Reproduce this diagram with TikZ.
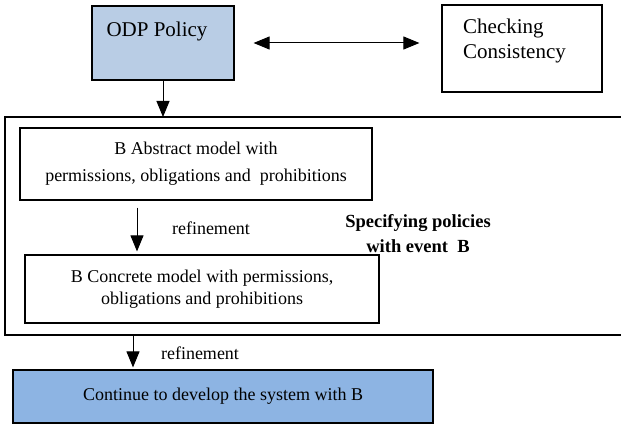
\documentclass[tikz,border=0pt]{standalone}
\usepackage{fontspec}
\setmainfont{Liberation Serif}
\usetikzlibrary{arrows.meta}
\definecolor{odpblue}{RGB}{185,205,229}
\definecolor{devblue}{RGB}{141,180,227}

\begin{document}
\begin{tikzpicture}[x=1pt,y=-1pt,
        box/.style={draw,line width=1.2pt,inner sep=0pt,align=center},
        arr/.style={line width=1pt,-{Triangle[length=16pt,width=13pt]}},
        dblarr/.style={line width=1pt,{Triangle[length=16pt,width=13pt]}-{Triangle[length=16pt,width=13pt]}},
        txt/.style={inner sep=0pt,align=center,font=\fontsize{18}{27}\selectfont}]
        \useasboundingbox (0,0) rectangle (621,425);
        % top line
        \node[box,fill=odpblue,minimum width=142pt,minimum height=74pt] (odp) at (163,43) {};
        \node[inner sep=0pt,font=\fontsize{21}{25}\selectfont] (odptxt) at (157,31) {ODP Policy};
        \node[box,minimum width=160pt,minimum height=87pt] (check) at (522,48.5) {};
        \node[inner sep=0pt,align=left,anchor=west,font=\fontsize{21}{25}\selectfont] (checktxt) at (463,40.5) {Checking\\Consistency};
        \draw[dblarr,shorten <=19pt,shorten >=22pt] (odp.east) -- (odp.east -| check.west);

        % frame with event B
        \draw[line width=1.2pt] (621,117) -- (5,117) -- (5,335) -- (621,335);
        \coordinate (frametop) at (163,117);
        \coordinate (framebot) at (133,335);
        \draw[arr] (odp.south) -- (frametop);
        \node[box,txt,minimum width=352pt,minimum height=72pt] (abs) at (196,164) {B Abstract model with\\permissions, obligations and~ prohibitions};
        \node[box,txt,font=\fontsize{18}{22}\selectfont,minimum width=354pt,minimum height=68pt] (con) at (202,289) {B Concrete model with permissions,\\obligations and prohibitions};
        \draw[arr,shorten <=7pt,shorten >=3pt] ([xshift=-59pt]abs.south) -- ([xshift=-65pt]con.north);
        \node[txt] (ref1) at (211,228) {refinement};
        \node[txt,font=\fontsize{18.5}{25}\selectfont\bfseries] (spec) at (418,234) {Specifying policies\\with event~ B};

        % bottom line
        \node[box,txt,fill=devblue,minimum width=420pt,minimum height=53pt] (dev) at (223,396.5) {Continue to develop the system with B};
        \draw[arr,shorten >=2pt] (framebot) -- ([xshift=-90pt]dev.north);
        \node[txt] (ref2) at (200,353) {refinement};
\end{tikzpicture}
\end{document}
